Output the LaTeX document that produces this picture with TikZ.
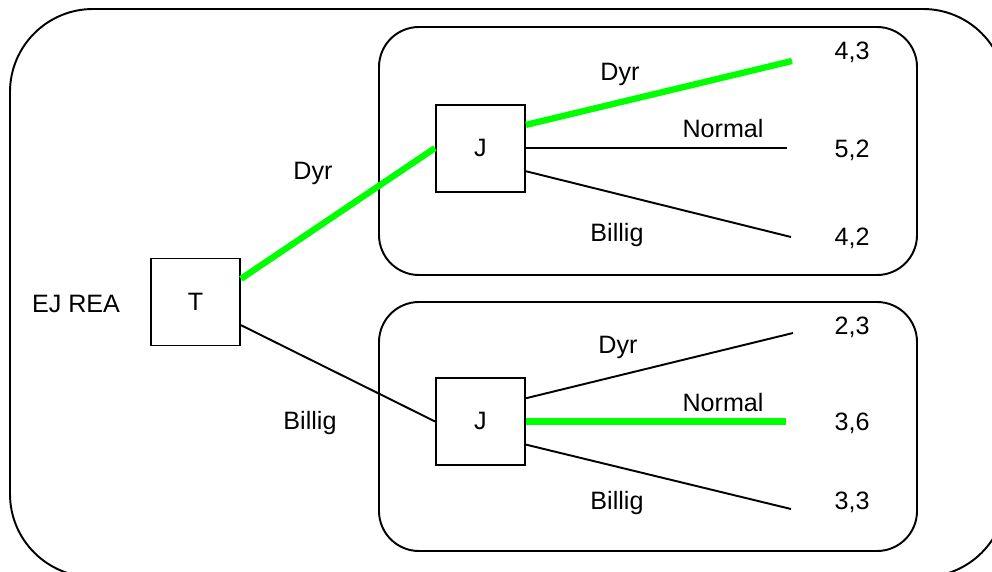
\documentclass[tikz,border=0pt]{standalone}
\usepackage{fontspec}
\setmainfont{Liberation Sans}
\usepackage{xcolor}
\usepackage{tikz}
\usetikzlibrary{positioning}

\definecolor{pick}{RGB}{0,255,0}

\tikzset{
    player/.style={draw, line width=1.1pt, minimum width=1.78cm, minimum height=1.74cm, inner sep=0pt},
    branch/.style={line width=1.1pt},
    best/.style={line width=3.6pt, draw=pick},
    subgame/.style={draw, line width=1.1pt, rounded corners=0.8cm},
}

\begin{document}
\begin{tikzpicture}[font=\fontsize{14.3}{17}\selectfont]
        \useasboundingbox (0,0) rectangle (19.84,11.42);
        \clip (0,0) rectangle (19.84,11.42);

        % whole game and the two subgames
        \draw[subgame, rounded corners=1.66cm] (0.2,-0.12) rectangle (20.12,11.24);
        \draw[subgame] (7.58,5.92) rectangle (18.34,10.88);
        \draw[subgame] (7.58,0.4) rectangle (18.34,5.38);

        \node[player] (T) at (3.91,5.38) {T};
        \node[player] (J1) [above right=1.30cm and 3.88cm of T] {J};
        \node[player] (J2) [below right=0.61cm and 3.88cm of T] {J};

        \node (ejrea) at (1.52,5.34) {EJ REA};

        \node (tdyr) at (6.26,7.96) {Dyr};
        \node (tbillig) at (6.2,2.96) {Billig};

        \node (j1dyr) at (12.4,9.94) {Dyr};
        \node (j1normal) at (14.46,8.84) {Normal};
        \node (j1billig) at (12.34,6.72) {Billig};

        \node (j2dyr) at (12.36,4.48) {Dyr};
        \node (j2normal) at (14.46,3.36) {Normal};
        \node (j2billig) at (12.34,1.36) {Billig};

        % payoffs
        \node (p1) at (17.04,10.38) {4,3};
        \node (p2) at (17.04,8.42) {5,2};
        \node (p3) at (17.04,6.66) {4,2};
        \node (p4) at (17.04,4.88) {2,3};
        \node (p5) at (17.04,2.96) {3,6};
        \node (p6) at (17.04,1.38) {3,3};

        \coordinate (e1) at (15.84,10.2);
        \coordinate (e2) at (J1.east -| 15.74,0);
        \coordinate (e3) at (15.82,6.68);
        \coordinate (e4) at (15.86,4.76);
        \coordinate (e5) at (J2.east -| 15.72,0);
        \coordinate (e6) at (15.82,1.24);

        \path
        (T.27) edge[best] (J1.west)
        (T.-27) edge[branch] (J2.west)

        (J1.27) edge[best] (e1)
        (J1.east) edge[branch] (e2)
        (J1.-27) edge[branch] (e3)

        (J2.27) edge[branch] (e4)
        (J2.east) edge[best] (e5)
        (J2.-27) edge[branch] (e6);

\end{tikzpicture}
\end{document}
